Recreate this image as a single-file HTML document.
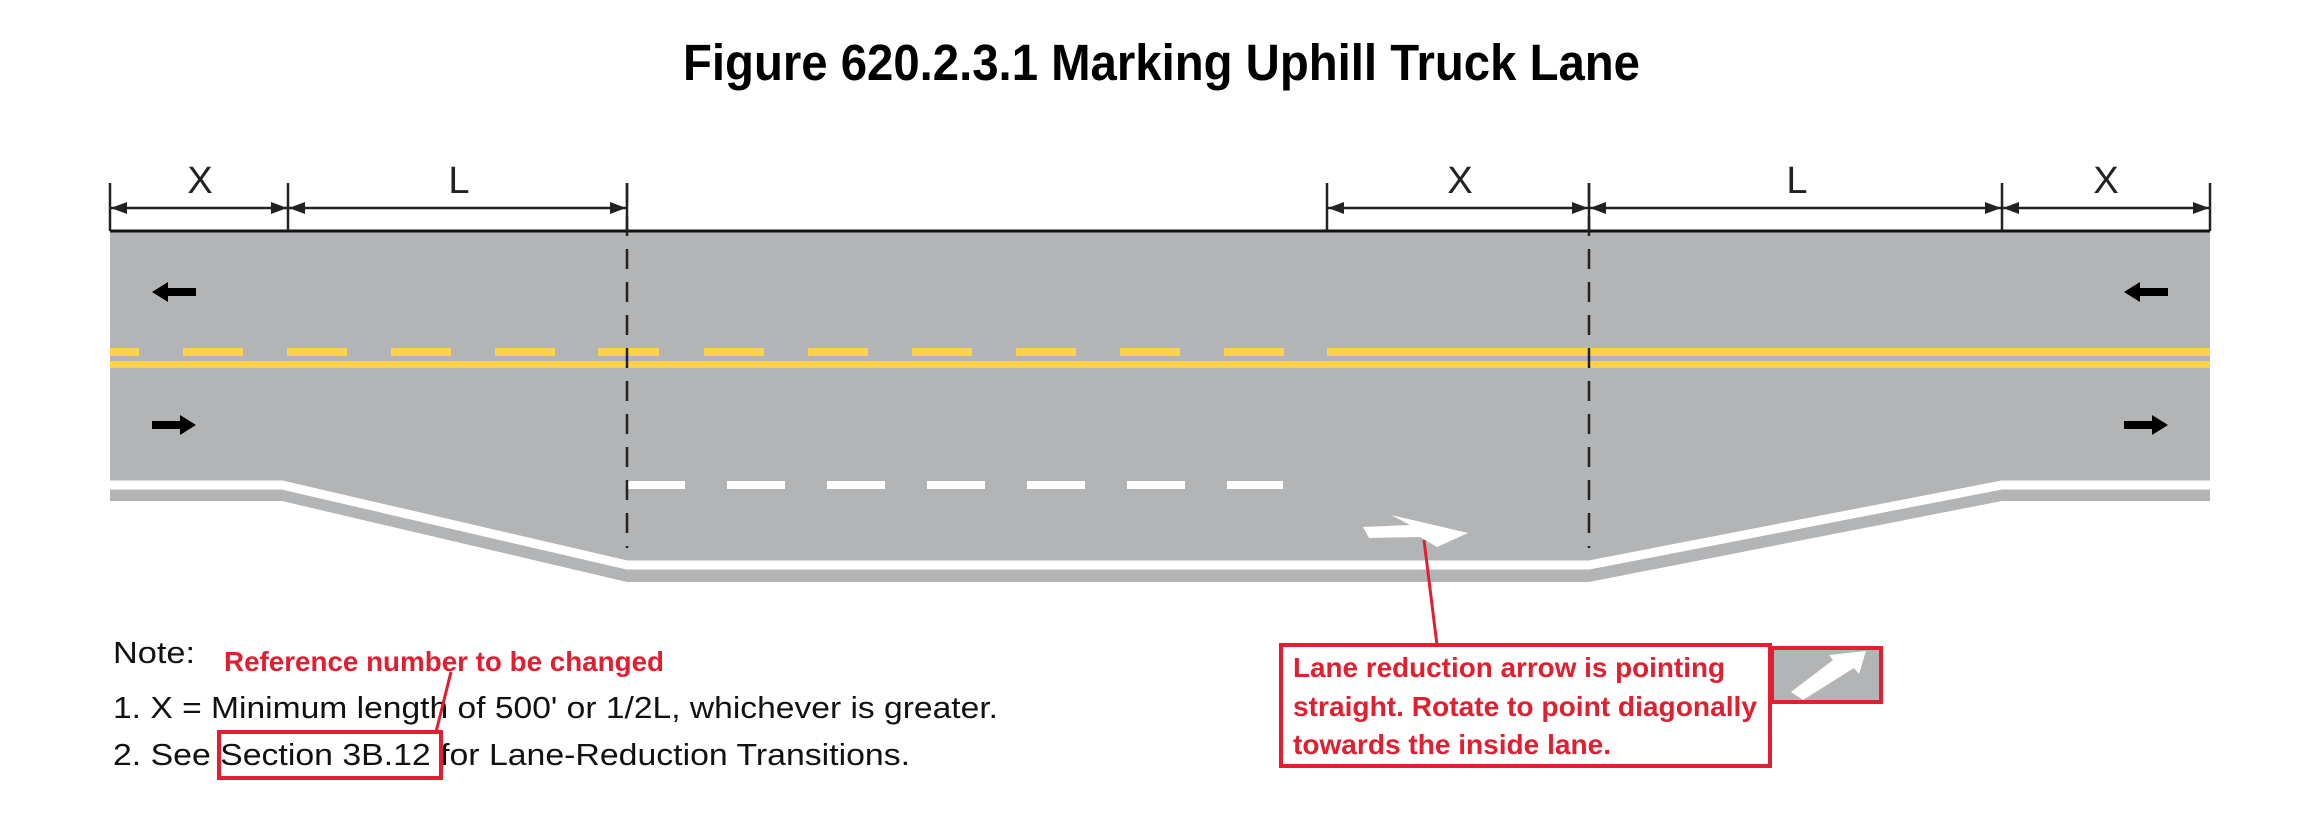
<!DOCTYPE html>
<html><head><meta charset="utf-8"><style>
html,body{margin:0;padding:0;background:#fff;}
svg{display:block;}
</style></head><body>
<svg width="2320" height="816" viewBox="0 0 2320 816" xmlns="http://www.w3.org/2000/svg">
<rect width="2320" height="816" fill="#fff"/>
<text x="683" y="80" font-family="Liberation Sans, sans-serif" font-weight="bold" font-size="51" textLength="957" lengthAdjust="spacingAndGlyphs">Figure 620.2.3.1 Marking Uphill Truck Lane</text>

<!-- road -->
<polygon points="110,231 2210,231 2210,501 2002,501 1589,582 627,582 282,501 110,501" fill="#b3b4b6"/>
<polyline points="110,485 282,485 627,565 1589,565 2002,485 2210,485" fill="none" stroke="#fff" stroke-width="9"/>
<line x1="110" y1="231" x2="2210" y2="231" stroke="#111" stroke-width="3"/>

<rect x="110" y="361" width="2100" height="7" fill="#fdd24a"/>
<g fill="#fdd24a">
<rect x="110" y="348" width="29" height="8"/>
<rect x="183" y="348" width="60" height="8"/><rect x="287" y="348" width="60" height="8"/>
<rect x="391" y="348" width="60" height="8"/><rect x="495" y="348" width="60" height="8"/>
<rect x="598" y="348" width="61" height="8"/><rect x="704" y="348" width="60" height="8"/>
<rect x="808" y="348" width="60" height="8"/><rect x="912" y="348" width="60" height="8"/>
<rect x="1016" y="348" width="60" height="8"/><rect x="1120" y="348" width="60" height="8"/>
<rect x="1224" y="348" width="60" height="8"/>
<rect x="1327" y="348" width="883" height="8"/>
</g>

<g fill="#fff">
<rect x="627" y="481" width="58" height="8"/><rect x="727" y="481" width="58" height="8"/>
<rect x="827" y="481" width="58" height="8"/><rect x="927" y="481" width="58" height="8"/>
<rect x="1027" y="481" width="58" height="8"/><rect x="1127" y="481" width="58" height="8"/>
<rect x="1227" y="481" width="56" height="8"/>
</g>

<line x1="627" y1="183" x2="627" y2="548" stroke="#222" stroke-width="2.5" stroke-dasharray="20,13"/>
<line x1="1589" y1="183" x2="1589" y2="548" stroke="#222" stroke-width="2.5" stroke-dasharray="20,13"/>
<line x1="627" y1="183" x2="627" y2="231" stroke="#222" stroke-width="2.5"/>
<line x1="1589" y1="183" x2="1589" y2="231" stroke="#222" stroke-width="2.5"/>

<g stroke="#222" stroke-width="2.5">
<line x1="110" y1="183" x2="110" y2="231"/>
<line x1="288" y1="183" x2="288" y2="231"/>
<line x1="1327" y1="183" x2="1327" y2="231"/>
<line x1="2002" y1="183" x2="2002" y2="231"/>
<line x1="2210" y1="183" x2="2210" y2="231"/>
<line x1="110" y1="208" x2="288" y2="208"/>
<line x1="288" y1="208" x2="627" y2="208"/>
<line x1="1327" y1="208" x2="1589" y2="208"/>
<line x1="1589" y1="208" x2="2002" y2="208"/>
<line x1="2002" y1="208" x2="2210" y2="208"/>
</g>
<g fill="#222">
<polygon points="111,208 127,202 127,214"/><polygon points="287,208 271,202 271,214"/>
<polygon points="289,208 305,202 305,214"/><polygon points="626,208 610,202 610,214"/>
<polygon points="1328,208 1344,202 1344,214"/><polygon points="1588,208 1572,202 1572,214"/>
<polygon points="1590,208 1606,202 1606,214"/><polygon points="2001,208 1985,202 1985,214"/>
<polygon points="2003,208 2019,202 2019,214"/><polygon points="2209,208 2193,202 2193,214"/>
</g>
<g font-family="Liberation Sans, sans-serif" font-size="38" fill="#222" text-anchor="middle">
<text x="200" y="193">X</text><text x="459" y="193">L</text>
<text x="1460" y="193">X</text><text x="1797" y="193">L</text><text x="2106" y="193">X</text>
</g>

<g fill="#000">
<polygon points="152,292 168,282 168,288 196,288 196,296 168,296 168,302"/>
<polygon points="196,425 180,415 180,421 152,421 152,429 180,429 180,435"/>
<polygon points="2124,292 2140,282 2140,288 2168,288 2168,296 2140,296 2140,302"/>
<polygon points="2168,425 2152,415 2152,421 2124,421 2124,429 2152,429 2152,435"/>
</g>
<polygon points="1363,527 1410,525 1391,515 1468,533 1437,547 1420,537 1369,538" fill="#fff"/>

<g font-family="Liberation Sans, sans-serif" font-size="31" fill="#111">
<text x="113" y="663" textLength="82" lengthAdjust="spacingAndGlyphs">Note:</text>
<text x="113" y="718" textLength="885" lengthAdjust="spacingAndGlyphs">1. X = Minimum length of 500' or 1/2L, whichever is greater.</text>
<text x="113" y="765" textLength="797" lengthAdjust="spacingAndGlyphs">2.  See Section 3B.12 for Lane-Reduction Transitions.</text>
</g>

<g font-family="Liberation Sans Narrow, Liberation Sans, sans-serif" font-weight="bold" font-size="28" fill="#e02030">
<text x="224" y="671" textLength="440" lengthAdjust="spacingAndGlyphs">Reference number to be changed</text>
<text x="1293" y="677" textLength="432" lengthAdjust="spacingAndGlyphs">Lane reduction arrow is pointing</text>
<text x="1293" y="716" textLength="464" lengthAdjust="spacingAndGlyphs">straight. Rotate to point diagonally</text>
<text x="1293" y="754" textLength="318" lengthAdjust="spacingAndGlyphs">towards the inside lane.</text>
</g>
<rect x="219" y="732" width="222" height="46" fill="none" stroke="#e02030" stroke-width="4"/>
<line x1="451" y1="672" x2="436" y2="732" stroke="#e02030" stroke-width="3"/>
<rect x="1281" y="645" width="489" height="121" fill="none" stroke="#e02030" stroke-width="4"/>
<line x1="1437" y1="645" x2="1424" y2="540" stroke="#e02030" stroke-width="3"/>
<rect x="1772" y="648" width="109" height="54" fill="#b3b4b6" stroke="#e02030" stroke-width="4"/>
<polygon points="1791,692 1833,660 1829,655 1866,651 1859,674 1854,668 1803,700" fill="#fff"/>
</svg>
</body></html>
